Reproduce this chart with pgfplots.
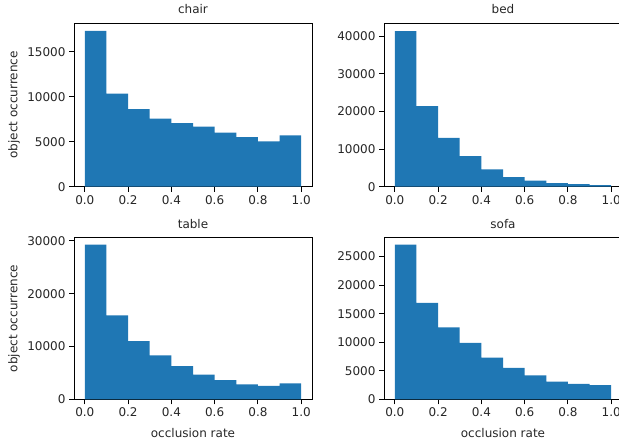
\documentclass[border=0pt]{standalone}
\usepackage{pgfplots}
\pgfplotsset{compat=1.18}
\usepackage{fontspec}
\setmainfont{DejaVu Sans}
\definecolor{mplblue}{RGB}{31,119,180}
\definecolor{axgray}{RGB}{38,38,38}
\newcommand{\tf}{\fontsize{12bp}{14bp}\selectfont}
\pgfplotsset{
  histax/.style={
    scale only axis,
    anchor=south west,
    width=238bp,
    xmin=-0.05, xmax=1.05, ymin=0,
    axis line style={black, line width=1bp},
    tick style={black, line width=1bp},
    tick align=outside,
    major tick length=5bp,
    xtick={0,0.2,0.4,0.6,0.8,1.0},
    xtick pos=bottom, ytick pos=left,
    xticklabel style={/pgf/number format/fixed, /pgf/number format/fixed zerofill, /pgf/number format/precision=1},
    scaled ticks=false,
    /pgf/number format/1000 sep={},
    /pgf/number format/assume math mode=true,
    every tick label/.append style={font=\tf, text=axgray},
    label style={font=\tf, text=axgray},
    every axis title/.append style={font=\tf, text=axgray},
    ylabel style={at={(axis description cs:-0.252,0.5)}, anchor=center},
    xlabel style={at={(axis description cs:0.5,-0.21)}, anchor=center},
  },
}
\begin{document}
\begin{tikzpicture}[x=1bp,y=1bp]
\begin{scope}
\clip (0,0) rectangle (619,442);
% chair
\begin{axis}[histax, at={(74bp,255.3bp)}, height=163.4bp, ymax=18150,
  ytick={0,5000,10000,15000}, title={\tf chair}, ylabel={object occurrence}]
\addplot[ybar interval, fill=mplblue, draw=none] coordinates {
(0.0,17300) (0.1,10330) (0.2,8630) (0.3,7560) (0.4,7070) (0.5,6670) (0.6,6000) (0.7,5520) (0.8,5040) (0.9,5700) (1.0,5700)};
\end{axis}
% bed
\begin{axis}[histax, at={(384bp,255.3bp)}, height=163.4bp, ymax=43400,
  ytick={0,10000,20000,30000,40000}, title={\tf bed}]
\addplot[ybar interval, fill=mplblue, draw=none] coordinates {
(0.0,41300) (0.1,21400) (0.2,13000) (0.3,8140) (0.4,4600) (0.5,2570) (0.6,1600) (0.7,970) (0.8,700) (0.9,450) (1.0,450)};
\end{axis}
% table
\begin{axis}[histax, at={(74bp,42.7bp)}, height=161.6bp, ymax=30600,
  ytick={0,10000,20000,30000}, title={\tf table}, ylabel={object occurrence}, xlabel={occlusion rate}]
\addplot[ybar interval, fill=mplblue, draw=none] coordinates {
(0.0,29300) (0.1,15900) (0.2,11000) (0.3,8300) (0.4,6300) (0.5,4660) (0.6,3650) (0.7,2840) (0.8,2520) (0.9,3000) (1.0,3000)};
\end{axis}
% sofa
\begin{axis}[histax, at={(384bp,42.7bp)}, height=161.6bp, ymax=28300,
  ytick={0,5000,10000,15000,20000,25000}, title={\tf sofa}, xlabel={occlusion rate}]
\addplot[ybar interval, fill=mplblue, draw=none] coordinates {
(0.0,27100) (0.1,16900) (0.2,12600) (0.3,9900) (0.4,7300) (0.5,5500) (0.6,4200) (0.7,3100) (0.8,2700) (0.9,2500) (1.0,2500)};
\end{axis}
\end{scope}
\pgfresetboundingbox
\path[use as bounding box] (0bp,0bp) rectangle (619bp,442bp);
\end{tikzpicture}
\end{document}
